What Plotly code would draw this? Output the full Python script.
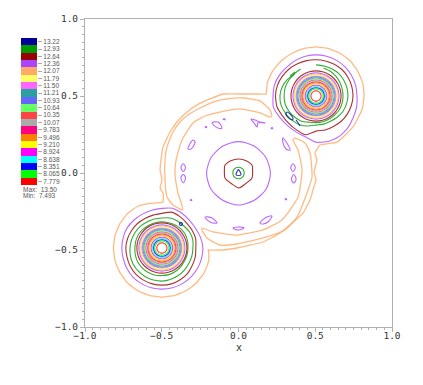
import math
import plotly.graph_objects as go

# ---- colour bar ----
LEVEL_LABELS = ["13.22","12.93","12.64","12.36","12.07","11.79","11.50","11.21","10.93","10.64",
                "10.35","10.07","9.783","9.496","9.210","8.924","8.638","8.351","8.065","7.779"]
LEVEL_COLORS = ["#000099","#009900","#990000","#aa44ff","#ffaa66","#ffff66","#ff66ff","#2aa0a0","#6666ff","#66ff66",
                "#ff4444","#aaaaaa","#ff0080","#ff8000","#ffff00","#ff00ff","#00ffff","#0000ff","#00ff00","#ff0000"]
NAVY, GREEN, DKRED, PURPLE, ORANGE = LEVEL_COLORS[:5]

# ---- blob centres ----
UR_CENTER = (0.505, 0.500)
LL_CENTER = (-0.499, -0.487)
A24 = list(range(0, 360, 15))

# ---- inner rings, shared radius and colour list ----
RING_RADII = [0.150,0.143,0.137,0.130,0.124,0.117,0.111,0.104,0.098,0.091,0.085,0.078,0.070,0.062,0.054,0.046,0.033]
RING_COLORS = LEVEL_COLORS[3:]
DKRED_INNER_R = 0.163

# ---- upper right blob ----
UR_PURPLE = [.267,.267,.267,.267,.267,.267,.267,.267,.267,.267,.274,.280,.280,.287,.274,.267,.267,.274,.300,.306,.303,.293,.280,.274]
UR_DKRED = [.241,.241,.241,.241,.238,.235,.235,.238,.241,.248,.254,.261,.264,.264,.254,.251,.254,.261,.228,.228,.228,.232,.235,.238]
UR_GREEN_OUT_A = [135,150,165,180,195,210,225,240,255,270,285,300,315,330,345,360,375,390,405,420,435,450]
UR_GREEN_OUT_R = [.199,.215,.228,.235,.235,.228,.221,.215,.202,.189,.189,.189,.195,.202,.205,.208,.208,.208,.208,.205,.202,.202]
UR_GREEN_IN_A = [120,135,150,165,180,195,210,225,240,255,270,285,300,315,330,345,360,375,390,405,420,435]
UR_GREEN_IN_R = [.202,.202,.205,.208,.208,.208,.202,.195,.189,.176,.173,.173,.173,.173,.176,.176,.176,.176,.179,.182,.186,.189]

# ---- lower left blob ----
LL_PURPLE = [.267,.261,.254,.254,.261,.267,.257,.254,.254,.257,.261,.261,.261,.261,.264,.267,.267,.267,.267,.267,.267,.267,.267,.267]
LL_DKRED = [.221,.228,.228,.228,.235,.241,.225,.221,.221,.225,.228,.232,.235,.235,.238,.241,.241,.241,.241,.241,.238,.235,.228,.225]
LL_GREEN_OUT = [.202,.208,.208,.202,.202,.202,.195,.195,.195,.199,.202,.205,.208,.212,.215,.215,.215,.215,.215,.212,.208,.205,.202,.202]
LL_GREEN_IN = [.170,.173,.176,.176,.173,.170,.170,.170,.170,.173,.176,.176,.176,.179,.182,.182,.182,.182,.179,.179,.176,.173,.170,.170]

# ---- outer orange dumbbell ----
TOP_WAVY_X = [.179,.140,.010,-.101,-.186,-.270,-.335,-.401,-.446,-.492,-.505,-.511,-.498,-.511,-.492,-.492]
TOP_WAVY_Y = [.513,.513,.513,.513,.481,.442,.396,.331,.266,.169,.084,.019,-.045,-.097,-.130,-.188]
LL_ARC_A = [105,120,135,150,165,180,195,210,225,240,255,270,285,300,315,330,345,358]
LL_ARC_R = [.300,.313,.316,.316,.316,.316,.316,.316,.319,.319,.319,.319,.319,.319,.319,.319,.316,.303]
BOT_WAVY_X = [-.199,-.101,-.010,.160,.270,.420,.466,.485,.505,.492,.511,.498,.531,.642,.746]
BOT_WAVY_Y = [-.500,-.500,-.487,-.448,-.390,-.260,-.175,-.110,-.045,.006,.084,.130,.182,.201,.299]
UR_ARC_A = [-15,0,15,30,45,60,75,90,105,120,135,150,165]
UR_ARC_R = [.313,.313,.316,.316,.319,.319,.319,.319,.319,.319,.322,.326,.329]

# ---- orange bananas ----
BANANA_A_X = [.218,.205,.140,.029,-.075,-.166,-.251,-.329,-.381,-.427,-.466,-.479,-.479,-.466,-.427,-.362,-.394,-.414,-.407,-.368,-.296,-.218,-.121,.010,.140,.205,.218]
BANANA_A_Y = [.370,.409,.468,.487,.481,.461,.422,.377,.331,.266,.169,.084,-.045,-.156,-.208,-.240,-.130,.000,.084,.214,.325,.370,.396,.416,.390,.364,.370]
BANANA_B_X = [-.238,-.166,-.010,.160,.283,.388,.414,.388,.355,.368,.433,.466,.479,.453,.381,.303,.160,-.010,-.121,-.205,-.238,-.238]
BANANA_B_Y = [-.357,-.383,-.403,-.370,-.305,-.156,.019,.149,.214,.227,.195,.130,-.026,-.110,-.286,-.370,-.422,-.461,-.468,-.422,-.370,-.357]

# ---- central contours ----
CENTER_PURPLE_A = [0,30,60,90,120,150,180,210,240,270,300,330,360]
CENTER_PURPLE_R = [.208,.205,.202,.204,.202,.205,.208,.208,.205,.208,.205,.208,.208]
CENTER_DKRED_X = [.003,.050,.088,.092,.088,.045,.003,-.045,-.088,-.092,-.088,-.050,.003]
CENTER_DKRED_Y = [.091,.080,.052,.010,-.032,-.070,-.097,-.070,-.032,.010,.052,.080,.091]
CENTER_GREEN_R = .037
CENTER_NAVY_X = [.000,.016,.014,-.014,-.016,.000]
CENTER_NAVY_Y = [.022,-.006,-.014,-.014,-.006,.022]

# ---- small purple islands (x list, y list) ----
ISLANDS = [
    ([-.173,-.134,-.108,-.134,-.173], [.325,.331,.292,.292,.325]),
    ([.081,.107,.140,.173,.127,.121,.101,.081], [.351,.344,.331,.325,.325,.299,.325,.351]),
    ([-.296,-.329,-.309,-.283,-.296], [.214,.156,.156,.201,.214]),
    ([.290,.336,.309,.290,.290], [.227,.149,.156,.195,.227]),
    ([-.36,-.345,-.36,-.375,-.36], [.06,.035,.01,.035,.06]),
    ([-.36,-.345,-.36,-.375,-.36], [-.01,-.03,-.065,-.03,-.01]),
    ([.355,.37,.355,.34,.355], [.06,.035,.01,.035,.06]),
    ([.36,.375,.36,.345,.36], [-.01,-.04,-.065,-.04,-.01]),
    ([-.218,-.173,-.140,-.186,-.218], [-.286,-.292,-.325,-.318,-.286]),
    ([.140,.173,.218,.192,.160,.140], [-.325,-.292,-.279,-.318,-.331,-.325]),
    ([-.036,-.003,.036,-.003,-.036], [-.357,-.351,-.357,-.370,-.357]),
    ([-.309,-.304,-.314,-.309], [-.170,-.178,-.178,-.170]),
    ([.309,.314,.304,.309], [-.165,-.173,-.173,-.165]),
    ([-.212,-.207,-.217,-.212], [.303,.295,.295,.303]),
    ([.218,.223,.213,.218], [.296,.288,.288,.296]),
    ([-.094,-.086,-.100,-.094], [.354,.347,.347,.354]),
]
NAVY_BITS = [
    ([.316,.355,.349,.309,.316], [.396,.357,.344,.377,.396]),
    ([.375,.401], [.344,.305]),
    ([-.375,-.365,-.375,-.385,-.375], [-.320,-.331,-.342,-.331,-.320]),
]
GREEN_BITS = [([.336,.368], [.630,.656])]


def polar(center, angles, radii):
    xs = [center[0] + r * math.cos(math.radians(a)) for a, r in zip(angles, radii)]
    ys = [center[1] + r * math.sin(math.radians(a)) for a, r in zip(angles, radii)]
    return xs, ys


def closed(center, radii):
    return polar(center, A24 + [360], list(radii) + [radii[0]])


fig = go.Figure()


def line(x, y, color, w=1.1, smooth=0.8):
    fig.add_trace(go.Scatter(x=x, y=y, mode="lines",
                             line=dict(color=color, width=w, shape="spline" if smooth else "linear", smoothing=smooth),
                             opacity=0.8, showlegend=False, hoverinfo="skip", xaxis="x", yaxis="y"))


# outer
llx, lly = polar(LL_CENTER, LL_ARC_A, LL_ARC_R)
urx, ury = polar(UR_CENTER, UR_ARC_A, UR_ARC_R)
line(TOP_WAVY_X + llx + BOT_WAVY_X + urx + TOP_WAVY_X[:1], TOP_WAVY_Y + lly + BOT_WAVY_Y + ury + TOP_WAVY_Y[:1], ORANGE, 1.3, 0.4)
line(BANANA_A_X, BANANA_A_Y, ORANGE, 1.3, 0.5)
line(BANANA_B_X, BANANA_B_Y, ORANGE, 1.3, 0.5)

# blobs
for center, purple, dkred in ((UR_CENTER, UR_PURPLE, UR_DKRED), (LL_CENTER, LL_PURPLE, LL_DKRED)):
    line(*closed(center, purple), PURPLE, smooth=0.5)
    line(*closed(center, dkred), DKRED, smooth=0.5)
line(*polar(UR_CENTER, UR_GREEN_OUT_A, UR_GREEN_OUT_R), GREEN, smooth=0.5)
line(*polar(UR_CENTER, UR_GREEN_IN_A, UR_GREEN_IN_R), GREEN, smooth=0.5)
line(*closed(LL_CENTER, LL_GREEN_OUT), GREEN, smooth=0.5)
line(*closed(LL_CENTER, LL_GREEN_IN), GREEN, smooth=0.5)
for center in (UR_CENTER, LL_CENTER):
    line(*closed(center, [DKRED_INNER_R] * 24), DKRED)
    for r, c in zip(RING_RADII, RING_COLORS):
        line(*closed(center, [r] * 24), c)

# centre
line(*polar((0, 0), CENTER_PURPLE_A, CENTER_PURPLE_R), PURPLE)
line(CENTER_DKRED_X, CENTER_DKRED_Y, DKRED)
line(*closed((0, 0), [CENTER_GREEN_R] * 24), GREEN)
line(CENTER_NAVY_X, CENTER_NAVY_Y, NAVY)
for x, y in ISLANDS:
    line(x, y, PURPLE, smooth=1)
for x, y in NAVY_BITS:
    line(x, y, NAVY, smooth=1)
for x, y in GREEN_BITS:
    line(x, y, GREEN, smooth=0)

# colour bar
fig.add_trace(go.Bar(x=[1] * len(LEVEL_LABELS), y=LEVEL_LABELS, orientation="h", width=1,
                     marker=dict(color=LEVEL_COLORS, line=dict(width=0)),
                     showlegend=False, hoverinfo="skip", xaxis="x2", yaxis="y2"))

W, H = 423, 385
MONO = "DejaVu Sans Mono"
axis_style = dict(showgrid=False, zeroline=False, showline=True, linecolor="#b0b0b0", linewidth=1, mirror=True,
                  ticks="outside", ticklen=4, tickcolor="#b0b0b0", tick0=-1, dtick=0.5, range=[-1, 1],
                  tickformat=".1f", tickfont=dict(family=MONO, size=9.5, color="#333333"), automargin=False,
                  minor=dict(ticks="outside", ticklen=2, tickcolor="#b0b0b0", dtick=0.05))

fig.update_layout(
    width=W, height=H, autosize=False, margin=dict(l=0, r=0, t=0, b=0, pad=0),
    paper_bgcolor="white", plot_bgcolor="white", bargap=0, separators=".-",
    font=dict(family="Liberation Sans"),
    xaxis=dict(domain=[85 / W, 392 / W], anchor="y", ticklabelstandoff=-4, **axis_style),
    yaxis=dict(domain=[1 - 327 / H, 1 - 19 / H], anchor="x", **axis_style),
    xaxis2=dict(domain=[21 / W, 37 / W], anchor="y2", range=[0, 1], visible=False, automargin=False),
    yaxis2=dict(domain=[1 - 185 / H, 1 - 38 / H], anchor="x2", side="right", type="category", automargin=False,
                categoryorder="array", categoryarray=LEVEL_LABELS[::-1], range=[-0.5, 19.5], dtick=1,
                tickmode="array", tickvals=LEVEL_LABELS, ticktext=LEVEL_LABELS,
                showgrid=False, zeroline=False, showline=False, ticks="outside", ticklen=4, tickcolor="#aaaaaa",
                tickfont=dict(family="Liberation Sans", size=6.5, color="#555555")),
    annotations=[
        dict(text="x", x=238.5 / W, y=1 - 347 / H, xref="paper", yref="paper", xanchor="center", yanchor="middle",
             showarrow=False, font=dict(family=MONO, size=10, color="#333333")),
        dict(text="Max:  13.50", x=21 / W, y=1 - 189 / H, xref="paper", yref="paper", xanchor="left", yanchor="middle",
             showarrow=False, font=dict(size=6.5, color="#555555")),
        dict(text="Min:  7.493", x=21 / W, y=1 - 195.5 / H, xref="paper", yref="paper", xanchor="left", yanchor="middle",
             showarrow=False, font=dict(size=6.5, color="#555555")),
    ],
)

fig.write_html("out.html", config=dict(displayModeBar=False), post_script="document.body.style.margin='0';")
